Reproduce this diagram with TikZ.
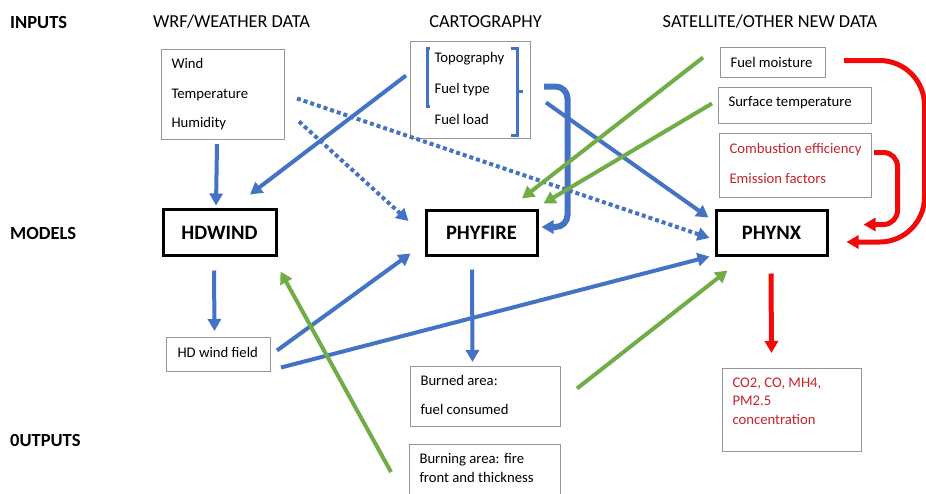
\documentclass[tikz,border=0pt]{standalone}
\usepackage{fontspec}
\setmainfont{Carlito}
\usetikzlibrary{arrows.meta}
\definecolor{cblue}{RGB}{68,114,196}
\definecolor{cgreen}{RGB}{112,173,71}
\definecolor{cred}{RGB}{240,10,10}
\definecolor{tred}{RGB}{200,35,45}
\definecolor{boxgray}{RGB}{150,150,150}
\newcommand{\boxtxt}[4]{\parbox[c][#2pt][t]{#1pt}{\fontsize{14.7}{#3}\selectfont\raggedright #4}}
\tikzset{
  thinbox/.style={draw=boxgray, line width=1pt, anchor=north west, inner xsep=10pt, inner ysep=9pt},
  modelbox/.style={draw=black, line width=3pt, minimum width=113pt, minimum height=46pt, inner sep=0pt, font=\bfseries\fontsize{20.5}{24}\selectfont},
  header/.style={font=\fontsize{18.3}{22}\selectfont, inner sep=0pt},
  rowlabel/.style={font=\bfseries\fontsize{18.5}{21}\selectfont, inner sep=0pt, anchor=west},
  tip/.style={-{Triangle[length=12pt,width=13pt]}},
  barrow/.style={tip, draw=cblue, line width=4pt},
  darrow/.style={tip, draw=cblue, line width=4pt, dash pattern=on 4pt off 3pt},
  garrow/.style={tip, draw=cgreen, line width=4pt},
  rarrow/.style={tip, draw=cred, line width=5pt},
}
\begin{document}
\begin{tikzpicture}[x=1pt,y=-1pt]
\clip (0,0) rectangle (926,493);
\fill[white] (0,0) rectangle (926,493);

% row labels and headers
\node[rowlabel] (inputs) at (10,22) {INPUTS};
\node[rowlabel] (models) at (10,233) {MODELS};
\node[rowlabel] (outputs) at (10,440) {0UTPUTS};
\node[header] (hwrf) at (231.5,22) {WRF/WEATHER DATA};
\node[header] (hcarto) at (485.5,22) {CARTOGRAPHY};
\node[header] (hsat) at (770,22) {SATELLITE/OTHER NEW DATA};

% input boxes
\node[thinbox] (weather) at (161,49) {\boxtxt{103}{72}{29.5}{Wind\\Temperature\\Humidity}};
\node[thinbox, inner xsep=24pt, inner ysep=11pt] (carto) at (410,41) {\boxtxt{72}{75}{31}{Topography\\Fuel type\\Fuel load}};
\node[thinbox, inner ysep=10pt] (fm) at (720,47) {\boxtxt{85}{10}{17}{Fuel moisture}};
\node[thinbox] (st) at (718,87) {\boxtxt{133}{18}{17}{Surface temperature}};
\node[thinbox, inner ysep=10pt, text=tred] (comb) at (719,133) {\boxtxt{132}{44}{30}{Combustion efficiency\\Emission factors}};

% models
\node[modelbox] (hdwind) at (219.5,232.5) {HDWIND};
\node[modelbox, minimum width=111pt, minimum height=45pt] (phyfire) at (481.5,232.5) {PHYFIRE};
\node[modelbox, minimum width=111pt, minimum height=45pt] (phynx) at (771.5,232.5) {PHYNX};

% outputs
\node[thinbox, inner xsep=11pt, inner ysep=10pt] (hdfield) at (166,337) {\boxtxt{82}{14}{17}{HD wind field}};
\node[thinbox] (burned) at (410,366) {\boxtxt{130}{42}{29}{Burned area:\\fuel consumed}};
\node[thinbox, draw=none] (burning) at (409,444) {\boxtxt{130}{42}{19}{Burning area: fire\\front and thickness}};
\draw[boxgray, line width=1pt] ([shift={(0,20)}]burning.south west) |- (burning.north east) -- ([shift={(0,20)}]burning.south east);
\node[thinbox, text=tred] (co2) at (722,368) {\boxtxt{119}{65}{18.5}{CO2, CO, MH4,\\PM2.5\\concentration}};

% brackets in cartography box
\draw[cblue, line width=3pt] ([shift={(20,7)}]carto.north west) -- ([shift={(17,7)}]carto.north west) -- ([shift={(17,65)}]carto.north west) -- ([shift={(20,65)}]carto.north west);
\draw[cblue, line width=3pt] ([shift={(101,7)}]carto.north west) -- ([shift={(107,7)}]carto.north west) -- ([shift={(107,94)}]carto.north west) -- ([shift={(101,94)}]carto.north west);
\draw[cblue, line width=3pt] ([shift={(107,50)}]carto.north west) -- ([shift={(113,50)}]carto.north west);

% blue arrows
\draw[barrow] ([shift={(-6,4)}]weather.south) -- ([shift={(-3.5,-2.5)}]hdwind.north);
\draw[barrow] ([shift={(-4,-14.5)}]carto.west) -- ([shift={(30.5,-13.5)}]hdwind.north);
\draw[darrow] ([shift={(12,4)}]weather.east) -- ([shift={(-5,5.5)}]phynx.west);
\draw[darrow] ([shift={(14,27)}]weather.east) -- ([shift={(-16,-11.5)}]phyfire.west);
\draw[barrow] ([shift={(15,12.5)}]carto.east) -- ([shift={(-6,9)}]phynx.north west);
\draw[barrow, line width=6pt, rounded corners=12pt] ([shift={(13,-3.5)}]carto.east) -| ([shift={(29,-5.5)}]phyfire.east) -- ([shift={(3,-5.5)}]phyfire.east);
\draw[barrow] ([shift={(-9.5,13)}]phyfire.south) -- ([shift={(-13,-4)}]burned.north);
\draw[barrow] ([shift={(-5.5,13.5)}]hdwind.south) -- ([shift={(-4,-6)}]hdfield.north);
\draw[barrow] ([shift={(6,-4)}]hdfield.east) -- ([shift={(-14,-3)}]phyfire.south west);
\draw[barrow] ([shift={(10,13)}]hdfield.east) -- ([shift={(-5,0)}]phynx.south west);

% green arrows
\draw[garrow] ([shift={(-17,-5)}]fm.west) -- ([shift={(40.5,-10)}]phyfire.north);
\draw[garrow] ([shift={(-6,-2)}]st.west) -- ([shift={(5,-5)}]phyfire.north east);
\draw[garrow] ([shift={(16,-8)}]burned.east) -- ([shift={(13,14)}]phynx.south west);
\draw[garrow] ([shift={(-18,28)}]burning.north west) -- ([shift={(3,14.5)}]hdwind.south east);

% red arrows
\draw[rarrow, rounded corners=45pt] ([shift={(18,-2)}]fm.east) -| ([shift={(96,9.5)}]phynx.east) -- ([shift={(18,9.5)}]phynx.east);
\draw[rarrow, rounded corners=14pt] ([shift={(2,-13)}]comb.east) -| ([shift={(69,16)}]phynx.north east) -- ([shift={(35,16)}]phynx.north east);
\draw[rarrow] ([shift={(-0.5,17)}]phynx.south) -- ([shift={(-20.5,-15)}]co2.north);
\end{tikzpicture}
\end{document}
